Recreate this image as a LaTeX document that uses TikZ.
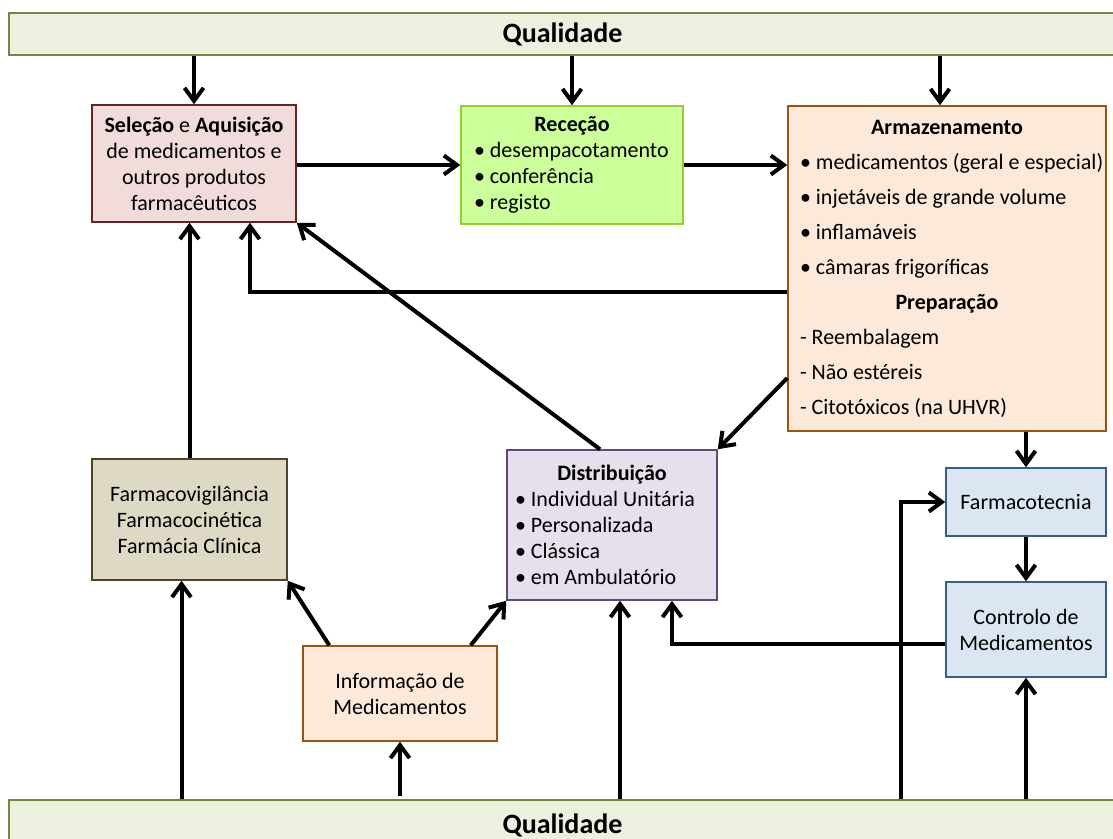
\documentclass[tikz,border=0pt]{standalone}
\usepackage{fontspec}
\setmainfont{Carlito}
\usetikzlibrary{arrows.meta,calc}

\definecolor{barfill}{HTML}{EBF1DE}
\definecolor{barline}{HTML}{71893F}
\definecolor{selfill}{HTML}{F2DCDB}
\definecolor{selline}{HTML}{632523}
\definecolor{recfill}{HTML}{CCFF99}
\definecolor{recline}{HTML}{99CC33}
\definecolor{armfill}{HTML}{FDE9D9}
\definecolor{armline}{HTML}{A0520F}
\definecolor{fvfill}{HTML}{DDD9C4}
\definecolor{fvline}{HTML}{4A452A}
\definecolor{distfill}{HTML}{E5E0EC}
\definecolor{distline}{HTML}{5F497A}
\definecolor{tecfill}{HTML}{DCE6F2}
\definecolor{tecline}{HTML}{385D8A}

\tikzset{
  box/.style={draw, line width=1.5pt, inner sep=0pt, font=\fontsize{22}{26}\selectfont},
  bar/.style={draw=barline, fill=barfill, line width=1.5pt, minimum width=1107pt,
    minimum height=42pt, inner sep=0pt, font=\fontsize{28}{30}\selectfont\bfseries},
  flow/.style={line width=4pt, -{Straight Barb[length=13pt,width=19pt]}}
}

\begin{document}
\begin{tikzpicture}[x=1pt,y=-1pt]
  \useasboundingbox (0,0) rectangle (1113,838);
  % faixas da qualidade
  \node[bar] (qtop) at (562.5,34) {Qualidade};
  \node[bar, minimum height=50pt] (qbot) at (562.5,825) {Qualidade};

  % circuito do medicamento
  \node[box, fill=selfill, draw=selline, minimum width=204pt, minimum height=117pt, align=center] (sel) at (194,163.5)
    {\textbf{Seleção} e \textbf{Aquisição}\\de medicamentos e\\outros produtos\\farmacêuticos};
  \node[box, fill=recfill, draw=recline, minimum height=118pt, text width=196pt, inner xsep=13pt, align=flush left] (rec) at (572,165)
    {\makebox[\linewidth]{\textbf{Receção}}\\\textbullet{} desempacotamento\\\textbullet{} conferência\\\textbullet{} registo};
  \node[box, fill=armfill, draw=armline, minimum height=325pt, text width=294pt, inner xsep=12pt, align=flush left,
    font=\fontsize{22}{35}\selectfont] (arm) at (947,268.5)
    {\makebox[\linewidth]{\textbf{Armazenamento}}\\
     \mbox{\textbullet{} medicamentos (geral e especial)}\\
     \textbullet{} injetáveis de grande volume\\
     \textbullet{} inflamáveis\\
     \textbullet{} câmaras frigoríficas\\
     \makebox[\linewidth]{\textbf{Preparação}}\\
     - Reembalagem\\
     - Não estéreis\\
     - Citotóxicos (na UHVR)};
  \node[box, fill=fvfill, draw=fvline, minimum width=195pt, minimum height=121pt, align=center] (farmv) at (189.5,519.5)
    {Farmacovigilância\\Farmacocinética\\Farmácia Clínica};
  \node[box, fill=distfill, draw=distline, minimum height=150pt, text width=194pt, inner xsep=8pt, align=flush left] (dist) at (612,525)
    {\makebox[\linewidth]{\textbf{Distribuição}}\\\textbullet{} Individual Unitária\\\textbullet{} Personalizada\\\textbullet{} Clássica\\\textbullet{} em Ambulatório};
  \node[box, fill=armfill, draw=armline, minimum width=194pt, minimum height=95pt, align=center] (info) at (400,693.5)
    {Informação de\\Medicamentos};
  \node[box, fill=tecfill, draw=tecline, minimum width=160pt, minimum height=68pt, align=center] (ftec) at (1026,502)
    {Farmacotecnia};
  \node[box, fill=tecfill, draw=tecline, minimum width=160pt, minimum height=95pt, align=center] (ctrl) at (1026,629.5)
    {Controlo de\\Medicamentos};

  \coordinate (selin) at ($(sel.south)+(56,0)$);
  \coordinate (fvin) at ($(farmv.south)+(-8,0)$);
  \coordinate (dsin) at ($(dist.south)+(8,0)$);
  \coordinate (dsin2) at ($(dist.south)+(60,0)$);
  \coordinate (ftin) at ($(ftec.west)+(-44,0)$);
  \coordinate (armin) at ($(arm.north)+(-7,0)$);

  % setas
  \draw[flow] (sel.north |- qtop.south) -- (sel.north);
  \draw[flow] (rec.north |- qtop.south) -- (rec.north);
  \draw[flow] (armin |- qtop.south) -- (armin);
  \draw[flow] (sel.east |- rec.west) -- (rec.west);
  \draw[flow] (rec.east) -- (rec.east -| arm.west);
  \draw[flow] ([yshift=-23.5pt]arm.west) -| (selin);
  \draw[flow] (farmv.north) -- (farmv.north |- sel.south);
  \draw[flow] ([xshift=-12pt]dist.north) -- (sel.south east);
  \draw[flow] ([yshift=-109.5pt]arm.west) -- (dist.north east);
  \draw[flow] (ftec.north |- arm.south) -- (ftec.north);
  \draw[flow] (ftec.south) -- (ctrl.north);
  \draw[flow] ([yshift=-14.5pt]ctrl.west) -| (dsin2);
  \draw[flow] (ftin |- qbot.north) |- (ftec.west);
  \draw[flow] (ctrl.south |- qbot.north) -- (ctrl.south);
  \draw[flow] (dsin |- qbot.north) -- (dsin);
  \draw[flow] ([yshift=3pt]info.south |- qbot.north) -- (info.south);
  \draw[flow] (fvin |- qbot.north) -- (fvin);
  \draw[flow] ([xshift=27pt]info.north west) -- (farmv.south east);
  \draw[flow] ([xshift=-27pt]info.north east) -- (dist.south west);
\end{tikzpicture}
\end{document}
